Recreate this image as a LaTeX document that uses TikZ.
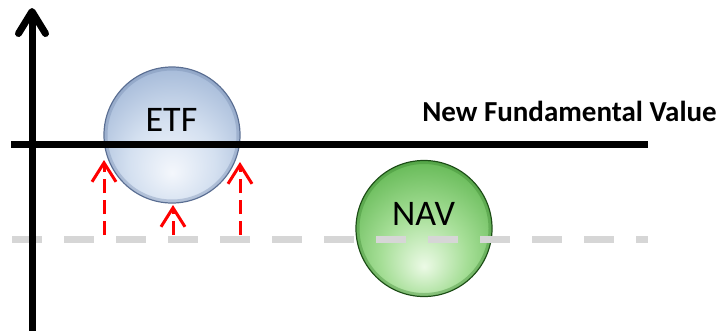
\documentclass[tikz,border=0pt]{standalone}
\usepackage{fontspec}
\setmainfont{Carlito}
\usetikzlibrary{arrows.meta}
\definecolor{etfin}{RGB}{244,247,252}
\definecolor{etfmid}{RGB}{212,224,240}
\definecolor{etfmid2}{RGB}{160,182,214}
\definecolor{etfout}{RGB}{112,134,172}
\definecolor{etfedge}{RGB}{90,110,146}
\definecolor{navin}{RGB}{236,250,230}
\definecolor{navmid}{RGB}{165,222,150}
\definecolor{navmid2}{RGB}{95,182,80}
\definecolor{navout}{RGB}{52,128,42}
\definecolor{navedge}{RGB}{28,76,22}
\definecolor{dashgray}{RGB}{214,214,214}
\definecolor{arrred}{RGB}{255,0,0}
\pgfdeclareradialshading{etfshade}{\pgfpoint{0bp}{-14bp}}{color(0bp)=(etfin); color(16bp)=(etfmid); color(34bp)=(etfmid2); color(50bp)=(etfmid2); color(64bp)=(etfout)}
\pgfdeclareradialshading{navshade}{\pgfpoint{0bp}{-14bp}}{color(0bp)=(navin); color(16bp)=(navmid); color(34bp)=(navmid2); color(50bp)=(navmid2); color(64bp)=(navout)}
\tikzset{
  ball/.style={circle, minimum size=136pt, inner sep=0pt, line width=1.2pt},
  rim/.style={line width=3pt, opacity=0.35},
  balltext/.style={anchor=base, font=\fontsize{36}{40}\selectfont, inner sep=0pt},
  levelline/.style={line width=7pt},
  graydash/.style={line width=7pt, dashgray, dash pattern=on 30pt off 22pt},
  axisline/.style={line width=7pt, line cap=round, -{Straight Barb[length=22pt, width=27pt, line cap=round, line join=round]}},
  redarrow/.style={line width=3pt, arrred, dash pattern=on 14pt off 7pt, -{Straight Barb[length=19pt, width=24pt]}}
}
\begin{document}
\begin{tikzpicture}[x=1pt, y=-1pt]
\useasboundingbox (0,0) rectangle (727,330);
% balls
\node[ball, shading=etfshade, draw=etfedge] (etf) at (172,135) {};
\draw[rim, etfout] (etf.center) circle[radius=66pt];
\node[ball, shading=navshade, draw=navedge] (nav) at (424,228.5) {};
\draw[rim, navout] (nav.center) circle[radius=66pt];
% level lines
\coordinate (fvL) at (11,144);
\coordinate (fvR) at (648,144);
\coordinate (oldL) at (12,239);
\coordinate (oldR) at (648,239);
\draw[levelline] (fvL) -- (fvR);
\draw[graydash] (oldL) -- (oldR);
% axis
\coordinate (axB) at (32,332);
\coordinate (axT) at (32,8);
\draw[axisline] (axB) -- (axT);
% red arrows
\coordinate (r1s) at (104,235); \coordinate (r1e) at (104,160);
\coordinate (r2s) at (173,235); \coordinate (r2e) at (173,205);
\coordinate (r3s) at (240,235); \coordinate (r3e) at (240,162);
\draw[redarrow] (r1s) -- (r1e);
\draw[redarrow] (r2s) -- (r2e);
\draw[redarrow] (r3s) -- (r3e);
% texts
\node[balltext] (etflabel) at (171.5,131) {ETF};
\node[balltext] (navlabel) at (423.5,225) {NAV};
\node[anchor=base, font=\bfseries\fontsize{29}{32}\selectfont, inner sep=0pt] (nfv) at (569.5,121) {New Fundamental Value};
\end{tikzpicture}
\end{document}
